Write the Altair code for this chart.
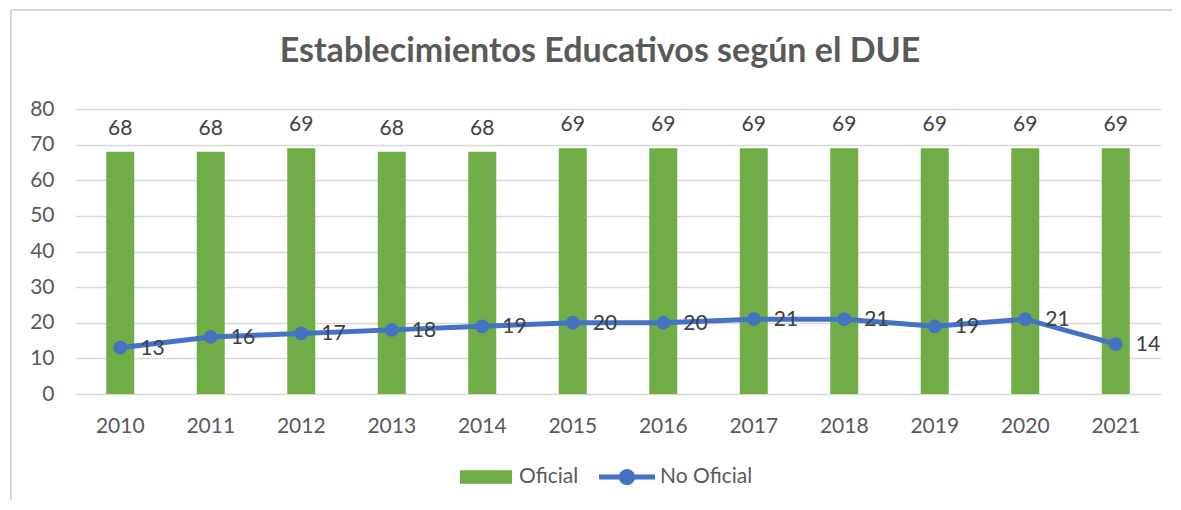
import altair as alt
import pandas as pd

years = ["2010", "2011", "2012", "2013", "2014", "2015", "2016", "2017", "2018", "2019", "2020", "2021"]
oficial = [68, 68, 69, 68, 68, 69, 69, 69, 69, 69, 69, 69]
no_oficial = [13, 16, 17, 18, 19, 20, 20, 21, 21, 19, 21, 14]
series = ["Oficial", "No Oficial"]
colors = ["#70AD47", "#4472C4"]
y_ticks = [0, 10, 20, 30, 40, 50, 60, 70, 80]
title_text = "Establecimientos Educativos según el DUE"

rows = []
for yr, o, n in zip(years, oficial, no_oficial):
    rows.append({"year": yr, "serie": "Oficial", "value": o})
    rows.append({"year": yr, "serie": "No Oficial", "value": n})
df = pd.DataFrame(rows)

W, H = 1086, 285
FONT = "Lato"
TXT = "#595959"
LBL = "#404040"
GRID = "#D9D9D9"

x_enc = alt.X(
    "year:O", title=None, sort=years,
    scale=alt.Scale(paddingInner=0, paddingOuter=0),
    axis=alt.Axis(labelAngle=0, ticks=False, domain=False, labelPadding=21,
                  labelFontSize=21, labelColor=TXT, labelFont=FONT),
)
y_enc = alt.Y(
    "value:Q", title=None, scale=alt.Scale(domain=[0, 80]),
    axis=alt.Axis(values=y_ticks, ticks=False, domain=False, gridColor=GRID,
                  gridWidth=1.5, labelPadding=21, labelFontSize=21,
                  labelColor=TXT, labelFont=FONT, labelOverlap=False),
)

base = alt.Chart(df).encode(x=x_enc, y=y_enc)
of_data = base.transform_filter(alt.datum.serie == "Oficial")
no_data = base.transform_filter(alt.datum.serie == "No Oficial")

bars = of_data.mark_bar(size=28, color=colors[0])
bar_labels = of_data.mark_text(
    dy=-17, baseline="alphabetic", fontSize=21, font=FONT, color=LBL
).encode(text="value:Q")

line = no_data.mark_line(strokeWidth=5, color=colors[1])
points = no_data.mark_point(filled=True, size=190, opacity=1, color=colors[1])
line_labels = no_data.mark_text(
    align="left", baseline="middle", dx=20, dy=1, fontSize=21, font=FONT, color=LBL
).encode(text="value:Q")

rect_path = "M-0.93,-0.245H0.93V0.245H-0.93Z"
line_path = ("M-1,-0.09H1V0.09H-1Z "
             "M0.29,0A0.29,0.29 0 1,1 -0.29,0A0.29,0.29 0 1,1 0.29,0Z")

legend_props = dict(
    orient="none", legendX=383, legendY=340, direction="horizontal",
    symbolSize=3136, symbolStrokeWidth=0, labelFontSize=21, labelColor=TXT,
    labelFont=FONT, title=None, columnPadding=20, labelOffset=5, padding=0,
    symbolOpacity=1,
)
legend_layer = alt.Chart(df).mark_point(filled=True, opacity=1, size=0).encode(
    x=x_enc,
    y=y_enc,
    color=alt.Color("serie:N", scale=alt.Scale(domain=series, range=colors),
                    legend=alt.Legend(**legend_props)),
    shape=alt.Shape("serie:N", scale=alt.Scale(domain=series, range=[rect_path, line_path]),
                    legend=alt.Legend(**legend_props)),
)

frame_top = alt.Chart(df).mark_rule(color=GRID, strokeWidth=1.5).encode(
    x=alt.value(-64), x2=alt.value(W + 11), y=alt.value(-99)
)
frame_left = alt.Chart(df).mark_rule(color=GRID, strokeWidth=1.5).encode(
    x=alt.value(-64), y=alt.value(-99), y2=alt.value(H + 106)
)

chart = alt.layer(
    frame_top, frame_left, bars, bar_labels, line, points, line_labels, legend_layer
).properties(
    width=W, height=H,
    padding={"left": 2, "top": 1, "right": 0, "bottom": 0},
    title=alt.TitleParams(title_text, fontSize=34, fontWeight="bold", color=TXT,
                          font=FONT, anchor="middle", baseline="alphabetic",
                          offset=-87, dx=-18),
).configure_view(stroke=None)

chart.save("out.html", embed_options={"renderer": "svg", "actions": False})
